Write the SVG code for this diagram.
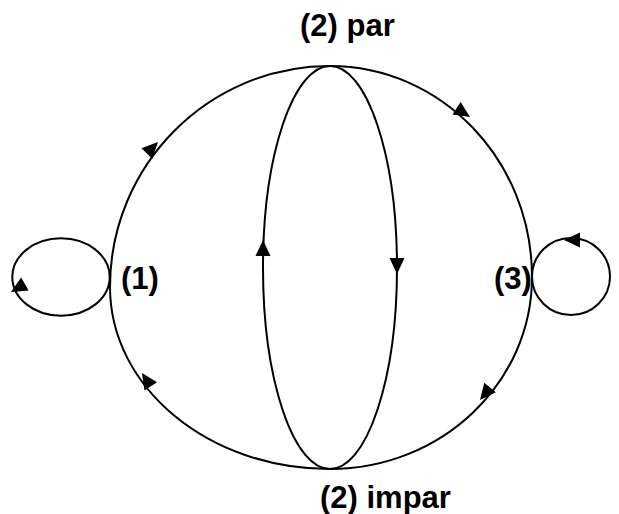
<svg xmlns="http://www.w3.org/2000/svg" width="619" height="514" viewBox="0 0 619 514">
<style>
.ln{fill:none;stroke:#000;stroke-width:2}
.lb{font-family:"Liberation Sans",Arial,sans-serif;font-weight:bold;font-size:31px;fill:#000}
</style>
<defs>
<path id="ah" d="M0,0 L-16,-7.5 L-16,7.5 Z" fill="#000"/>
</defs>
<rect width="619" height="514" fill="#fff"/>
<g id="connectors">
<path class="ln" d="M330,66 C441.6,66 532,160.5 532,277 C532,383 441.6,469 330,469 C208.5,469 110,387.5 110,287 C110,165 208.5,66 330,66 Z"/>
<ellipse class="ln" cx="330" cy="267.5" rx="67" ry="201.5"/>
<ellipse class="ln" cx="61" cy="277" rx="48.7" ry="38.7"/>
<ellipse class="ln" cx="571" cy="276.5" rx="39" ry="38.5"/>
<use href="#ah" transform="translate(263,240) rotate(-90)"/>
<use href="#ah" transform="translate(397,274) rotate(90)"/>
<use href="#ah" transform="translate(158,142) rotate(-46)"/>
<use href="#ah" transform="translate(470,117) rotate(33)"/>
<use href="#ah" transform="translate(142,373) rotate(-123)"/>
<use href="#ah" transform="translate(480,400) rotate(129)"/>
<use href="#ah" transform="translate(11,292) rotate(150)"/>
<use href="#ah" transform="translate(564,240) rotate(180)"/>
</g>
<g id="n2par"><text class="lb" x="300" y="36">(2) par</text></g>
<g id="n2impar"><text class="lb" x="320" y="508">(2) impar</text></g>
<g id="n1"><text class="lb" x="121" y="289">(1)</text></g>
<g id="n3"><text class="lb" x="494" y="289">(3)</text></g>
</svg>
